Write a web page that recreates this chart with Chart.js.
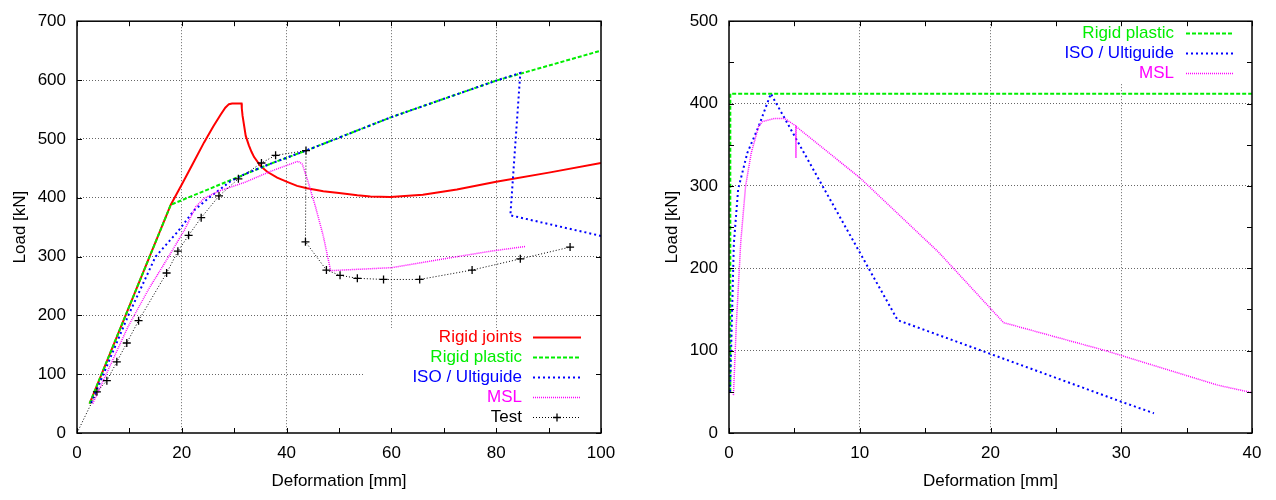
<!DOCTYPE html>
<html>
<head>
<meta charset="utf-8">
<title>Load - deformation</title>
<script src="https://cdn.jsdelivr.net/npm/chart.js@4.4.1/dist/chart.umd.min.js"></script>
<style>
  html, body { margin: 0; padding: 0; background: #fff; }
  #wrap { width: 1276px; height: 500px; display: flex; }
  canvas { display: block; }
</style>
</head>
<body>
<div id="wrap">
  <canvas id="left-chart" width="638" height="500"></canvas>
  <canvas id="right-chart" width="638" height="500"></canvas>
</div>
<script>
// left panel, points are [deformation mm, load kN]
var leftRigidJoints = [[2.4, 50], [17.9, 388], [20.1, 424], [22, 456], [24.25, 494], [26, 521], [27.4, 541],
    [28.3, 553], [29, 559], [29.6, 560], [31.4, 560], [31.45, 552], [31.6, 539], [32.2, 505], [32.8, 489],
    [33.3, 478], [33.8, 469], [35, 454], [36.3, 444], [38.2, 434], [40.1, 427], [42, 420], [43.9, 416],
    [47, 411], [50, 408], [53.5, 404], [56, 402], [59.8, 401], [66, 405], [72.5, 414], [80, 427],
    [90.3, 443], [100, 459]];
var leftRigidPlastic = [[2.4, 50], [17.9, 388], [37, 458], [43.7, 480], [60, 537], [80, 599], [100, 650]];
var leftIso = [[2.7, 51], [9.8, 200], [15, 300], [19.2, 342], [22.3, 378], [25.2, 400], [29.3, 428], [32, 440],
    [37, 458], [43.7, 480], [60, 537], [80, 599], [84.6, 612], [82.7, 370], [100, 335]];
var leftMsl = [[3, 50], [9.7, 180], [13.7, 245], [17.5, 300], [20.5, 345], [22.7, 385], [24.3, 399], [27, 411],
    [32, 426], [37, 445], [42.2, 462], [43, 457], [44, 430], [45.5, 385], [47, 335], [48.4, 276], [60, 281],
    [69.3, 295], [78.9, 309], [85.5, 317]];
var leftTest = [[0, 0], [3.8, 70], [5.7, 89], [7.6, 121], [9.5, 153], [11.75, 191], [17.1, 272], [19.25, 309],
    [21.3, 336], [23.7, 366], [27.1, 403], [30.8, 432], [35.2, 459], [37.9, 472], [43.7, 480], [43.6, 325],
    [47.6, 277], [50.2, 268], [53.5, 263], [58.5, 261], [65.4, 261], [75.4, 277], [84.6, 296], [94.1, 316]];

// right panel
var rightRigidPlastic = [[0.1, 50], [0.1, 412], [40, 412]];
var rightIso = [[0.08, 50], [0.37, 230], [0.7, 296], [1.4, 340], [2.26, 372], [3.2, 412], [12.9, 137],
    [20, 96], [30, 38], [32.5, 24]];
var rightMsl = [[0.34, 46], [0.56, 132], [0.9, 232], [1.27, 300], [1.7, 340], [2.26, 372], [2.54, 378],
    [3.5, 382], [4.24, 382], [5.1, 373], [5.12, 334], [5.14, 372], [10, 310], [16, 220], [21, 134],
    [28.8, 100], [37.4, 58], [40, 49]];

var leftXTicks = [0, 20, 40, 60, 80, 100];
var leftYTicks = [0, 100, 200, 300, 400, 500, 600, 700];
var rightXTicks = [0, 10, 20, 30, 40];
var rightYTicks = [0, 100, 200, 300, 400, 500];

var lineStyles = {
    'Rigid joints': { color: '#ff0000', width: 2, dash: [] },
    'Rigid plastic': { color: '#00ee00', width: 2, dash: [4, 2] },
    'ISO / Ultiguide': { color: '#0000ff', width: 2, dash: [2, 3] },
    'MSL': { color: '#ff00ff', width: 1.5, dash: [1, 1] },
    'Test': { color: '#000000', width: 1, dash: [1, 2] }
};

Chart.defaults.font.family = '"Liberation Sans", Arial, Helvetica, sans-serif';
Chart.defaults.font.size = 17;
Chart.defaults.color = '#000';

function makeDataset(name, points, i) {
    var st = lineStyles[name];
    var isTest = name === 'Test';
    return {
        label: name,
        data: points.map(function(p) { return { x: p[0], y: p[1] }; }),
        showLine: true,
        fill: false,
        tension: 0,
        borderColor: st.color,
        backgroundColor: st.color,
        borderWidth: st.width,
        borderDash: st.dash,
        pointStyle: 'cross',
        pointRadius: isTest ? function(ctx) { return ctx.dataIndex === 0 ? 0 : 4; } : 0,
        pointBorderWidth: 1.3,
        pointBorderColor: '#000',
        pointHoverRadius: 0,
        order: 10 - i
    };
}

function makeScales(xMax, xStep, xLabels, yMax, yStep, yLabels, yWidth, yTitlePad) {
    function gridColor(labels, max) {
        return function(ctx) {
            var v = ctx.tick ? ctx.tick.value : null;
            if (v === null || v === 0 || v === max || labels.indexOf(v) < 0) return 'rgba(0,0,0,0)';
            return '#666';
        };
    }
    return {
        x: {
            type: 'linear', min: 0, max: xMax,
            afterFit: function(s) { s.height = 67; },
            ticks: {
                stepSize: xStep, autoSkip: false, maxRotation: 0, padding: 10,
                callback: function(v) { return xLabels.indexOf(v) >= 0 ? String(v) : ''; }
            },
            grid: { color: gridColor(xLabels, xMax), lineWidth: 1, drawTicks: false },
            border: { display: false, dash: [1, 2] },
            title: { display: true, text: 'Deformation [mm]', padding: { top: 0, bottom: 8 } }
        },
        y: {
            type: 'linear', min: 0, max: yMax,
            afterFit: function(s) { s.width = yWidth; },
            ticks: {
                stepSize: yStep, autoSkip: false, padding: 11,
                callback: function(v) { return yLabels.indexOf(v) >= 0 ? String(v) : ''; }
            },
            grid: { color: gridColor(yLabels, yMax), lineWidth: 1, drawTicks: false },
            border: { display: false, dash: [1, 2] },
            title: { display: true, text: 'Load [kN]', padding: { top: yTitlePad, bottom: 0 } }
        }
    };
}

// white key box, key entries, then the frame with inward tick marks
var framePlugin = {
    id: 'frame',
    afterDatasetsDraw: function(chart, args, opts) {
        var ctx = chart.ctx;
        var a = chart.chartArea;
        ctx.save();
        ctx.fillStyle = '#fff';
        ctx.fillRect(opts.box[0], opts.box[1], opts.box[2] - opts.box[0], opts.box[3] - opts.box[1]);

        ctx.font = '17px "Liberation Sans", Arial, Helvetica, sans-serif';
        ctx.textAlign = 'right';
        ctx.textBaseline = 'middle';
        chart.data.datasets.forEach(function(ds, i) {
            var st = lineStyles[ds.label];
            var y = opts.y + i * opts.rowGap;
            ctx.fillStyle = st.color;
            ctx.fillText(ds.label, opts.x, y);
            ctx.strokeStyle = st.color;
            ctx.lineWidth = st.width;
            ctx.setLineDash(st.dash);
            ctx.beginPath();
            ctx.moveTo(opts.lineX1, y + 0.5);
            ctx.lineTo(opts.lineX2, y + 0.5);
            ctx.stroke();
            if (ds.label === 'Test') {
                var cx = (opts.lineX1 + opts.lineX2) / 2;
                ctx.setLineDash([]);
                ctx.lineWidth = 1.3;
                ctx.beginPath();
                ctx.moveTo(cx - 4, y + 0.5); ctx.lineTo(cx + 4, y + 0.5);
                ctx.moveTo(cx, y - 3.5); ctx.lineTo(cx, y + 4.5);
                ctx.stroke();
            }
        });

        ctx.setLineDash([]);
        ctx.strokeStyle = '#000';
        ctx.lineWidth = 1;
        var xs = chart.scales.x, ys = chart.scales.y;
        ctx.beginPath();
        xs.ticks.forEach(function(t) {
            var px = Math.round(xs.getPixelForValue(t.value)) + 0.5;
            ctx.moveTo(px, a.bottom); ctx.lineTo(px, a.bottom - 5);
            ctx.moveTo(px, a.top); ctx.lineTo(px, a.top + 5);
        });
        ys.ticks.forEach(function(t) {
            var py = Math.round(ys.getPixelForValue(t.value)) + 0.5;
            ctx.moveTo(a.left, py); ctx.lineTo(a.left + 5, py);
            ctx.moveTo(a.right, py); ctx.lineTo(a.right - 5, py);
        });
        ctx.stroke();
        ctx.lineWidth = 1.5;
        ctx.strokeRect(a.left, a.top, a.right - a.left, a.bottom - a.top);
        ctx.restore();
    }
};

new Chart(document.getElementById('left-chart'), {
    type: 'scatter',
    data: {
        datasets: [
            makeDataset('Rigid joints', leftRigidJoints, 0),
            makeDataset('Rigid plastic', leftRigidPlastic, 1),
            makeDataset('ISO / Ultiguide', leftIso, 2),
            makeDataset('MSL', leftMsl, 3),
            makeDataset('Test', leftTest, 4)
        ]
    },
    options: {
        responsive: false,
        animation: false,
        devicePixelRatio: 1,
        layout: { padding: { top: 17, right: 37, bottom: 0, left: 0 } },
        scales: makeScales(100, 10, leftXTicks, 700, 100, leftYTicks, 77, 10),
        plugins: {
            legend: { display: false },
            tooltip: { enabled: false },
            frame: { x: 522, lineX1: 533, lineX2: 581, y: 337, rowGap: 20, box: [364, 328, 601, 433] }
        }
    },
    plugins: [framePlugin]
});

new Chart(document.getElementById('right-chart'), {
    type: 'scatter',
    data: {
        datasets: [
            makeDataset('Rigid plastic', rightRigidPlastic, 1),
            makeDataset('ISO / Ultiguide', rightIso, 2),
            makeDataset('MSL', rightMsl, 3)
        ]
    },
    options: {
        responsive: false,
        animation: false,
        devicePixelRatio: 1,
        layout: { padding: { top: 17, right: 24, bottom: 0, left: 0 } },
        scales: makeScales(40, 5, rightXTicks, 500, 50, rightYTicks, 91, 24),
        plugins: {
            legend: { display: false },
            tooltip: { enabled: false },
            frame: { x: 536, lineX1: 548, lineX2: 595, y: 33, rowGap: 20, box: [378, 17, 614, 83] }
        }
    },
    plugins: [framePlugin]
});
</script>
</body>
</html>
